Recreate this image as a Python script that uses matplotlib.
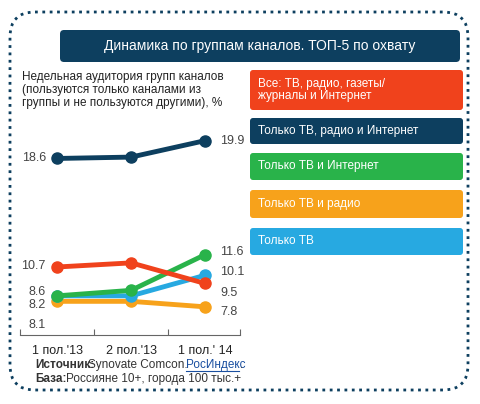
import matplotlib.pyplot as plt
from matplotlib.patches import FancyBboxPatch

periods = ["1 пол.'13", "2 пол.'13", "1 пол.' 14"]
series_names = ["Все: ТВ, радио, газеты/\nжурналы и Интернет", "Только ТВ, радио и Интернет",
                "Только ТВ и Интернет", "Только ТВ и радио", "Только ТВ"]
colors = ["#f0421c", "#0d3f5f", "#29b34a", "#f7a21b", "#27a9e1"]
red = [10.7, 11.0, 9.5]
navy = [18.6, 18.7, 19.9]
green = [8.6, 9.0, 11.6]
blue = [8.6, 8.6, 10.1]
orange = [8.2, 8.2, 7.8]
left_labels = ["18.6", "10.7", "8.6", "8.2", "8.1"]
right_labels = ["19.9", "11.6", "10.1", "9.5", "7.8"]

W, H = 480, 404
plt.rcParams['font.family'] = ['Liberation Sans', 'DejaVu Sans']
fig = plt.figure(figsize=(W / 100, H / 100), dpi=100)

def px(x, y, w, h):
    return [x / W, 1 - (y + h) / H, w / W, h / H]

bg = fig.add_axes([0, 0, 1, 1])
bg.set_xlim(0, W); bg.set_ylim(H, 0); bg.axis('off')
bg.add_patch(FancyBboxPatch((10, 12), 458, 378, boxstyle="round,pad=0,rounding_size=25",
                            fill=False, ls=':', lw=2, ec='#0d3f5f'))
bg.add_patch(FancyBboxPatch((60, 30), 400, 32, boxstyle="round,pad=0,rounding_size=4",
                            fc='#0d3f5f', ec='none'))
bg.text(260, 46, "Динамика по группам каналов. ТОП-5 по охвату", color='white',
        fontsize=10, ha='center', va='center')
bg.text(22, 90, "Недельная аудитория групп каналов\n(пользуются только каналами из\nгруппы и не пользуются другими), %",
        fontsize=8.5, va='center', color='#222', linespacing=1.1)
boxes = [(70, 40), (118, 26), (153, 27), (190, 28), (228, 27)]
for (y, h), name, c in zip(boxes, series_names, colors):
    bg.add_patch(FancyBboxPatch((250, y), 213, h, boxstyle="round,pad=0,rounding_size=3",
                                fc=c, ec='none'))
    bg.text(258, y + h / 2, name, color='white', fontsize=8.5, va='center', linespacing=1.1)
bg.text(35, 365, "Источник:", fontsize=8.5, weight='bold', color='#333', va='center')
bg.text(88, 365, "Synovate Comcon.", fontsize=8.5, color='#333', va='center')
bg.text(186, 365, "РосИндекс", fontsize=8.5, color='#1a4fa0', va='center')
bg.plot([186, 239], [371, 371], color='#1a4fa0', lw=0.8)
bg.text(240, 365, ".", fontsize=8.5, color='#333', va='center')
bg.text(35, 379, "База:", fontsize=8.5, weight='bold', color='#333', va='center')
bg.text(66, 379, "Россияне 10+, города 100 тыс.+", fontsize=8.5, color='#333', va='center')

ax = fig.add_axes(px(20, 120, 220, 215))
x = [0, 1, 2]
for vals, c in [(navy, colors[1]), (orange, colors[3]), (blue, colors[4]),
                (green, colors[2]), (red, colors[0])]:
    ax.plot(x, vals, color=c, lw=3.5, marker='o', ms=8, solid_capstyle='round')
ax.set_xlim(-0.5, 2.47)
ax.set_ylim(5.75, 21.4)
for s in ['top', 'right', 'left']:
    ax.spines[s].set_visible(False)
ax.spines['bottom'].set_color('#666')
ax.set_yticks([])
ax.set_xticks([-0.5, 0.5, 1.5, 2.47])
ax.set_xticklabels([])
ax.tick_params(axis='x', direction='in', length=4, color='#666')
for i, p in enumerate(periods):
    ax.text(i, 4.6, p, ha='center', va='center', fontsize=9, color='#222')
ly = [18.6, 10.8, 8.9, 7.9, 6.5]
for t, y in zip(left_labels, ly):
    ax.text(-0.15, y, t, ha='right', va='center', fontsize=9, color='#444')
ry = [19.9, 11.8, 10.3, 8.8, 7.4]
for t, y in zip(right_labels, ry):
    ax.text(2.2, y, t, ha='left', va='center', fontsize=9, color='#444')

fig.savefig("out.png", dpi=100)
